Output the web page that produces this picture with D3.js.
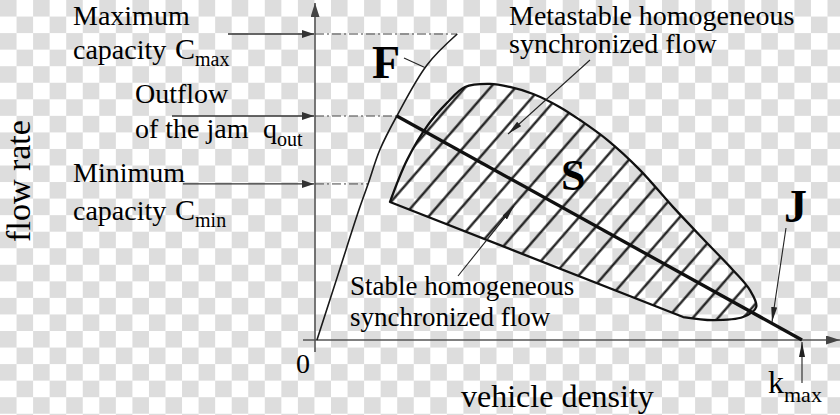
<!DOCTYPE html>
<html lang="en">
<head>
<meta charset="utf-8">
<title>Flow rate vs vehicle density</title>
<style>
body { margin: 0; background: #fff; }
svg text { font-family: "Liberation Serif", "Times New Roman", serif; fill: #000; }
.axis-line { stroke: #555; stroke-width: 1.6; fill: none; }
.level { stroke: #444; stroke-width: 1; stroke-dasharray: 9,3,2,3; fill: none; }
.level-arrow { stroke: #333; stroke-width: 1.3; fill: none; }
.leader { stroke: #222; stroke-width: 1.1; fill: none; }
</style>
</head>
<body>
<div id="chart"></div>
<script src="https://d3js.org/d3.v7.min.js"></script>
<script>

// flow levels on the vertical axis (Cmax = 100)
var levelNames = ["Cmax", "qout", "Cmin"];
var levelFlow = [100, 73.2, 51.0];

// free flow branch F
var fDensity = [0.4, 4.7, 8.8, 10.9, 13.3, 16.8, 23.0, 29.2];
var fFlow = [0, 21.2, 41.5, 51.0, 62.1, 73.2, 89.9, 100];

// line J, from the outflow point down to kmax
var jDensity = [16.8, 100];
var jFlow = [73.2, 0];

// synchronized flow region S (upper curve, then closed straight back)
var sDensity = [15.4, 18.9, 23.2, 27.1, 30.8, 35.9, 40.0, 44.8, 50.3, 54.4, 60.0, 66.7, 73.5, 80.5, 85.8, 89.3, 90.6, 87.9, 81.7, 75.6];
var sFlow = [45.1, 58.8, 70.3, 77.5, 82.7, 83.7, 82.7, 80.4, 76.1, 71.9, 65.4, 55.6, 43.5, 31.7, 22.9, 16.3, 10.8, 7.5, 6.5, 7.5];

var W = 840, H = 415;
var x = d3.scaleLinear().domain([0, 100]).range([315, 802]);
var y = d3.scaleLinear().domain([0, 100]).range([340, 34]);

var svg = d3.select('#chart').append('svg')
  .attr('width', W)
  .attr('height', H);

var defs = svg.append('defs');

// transparent-image checkerboard
var cell = 16.55;
var chk = defs.append('pattern')
  .attr('id', 'checker')
  .attr('patternUnits', 'userSpaceOnUse')
  .attr('width', cell * 2)
  .attr('height', cell * 2);
chk.append('rect').attr('width', cell * 2).attr('height', cell * 2).attr('fill', '#ffffff');
chk.append('rect').attr('width', cell).attr('height', cell).attr('fill', '#dddddd');
chk.append('rect').attr('x', cell).attr('y', cell).attr('width', cell).attr('height', cell).attr('fill', '#dddddd');
svg.append('rect').attr('width', W).attr('height', H).attr('fill', 'url(#checker)');

// hatch
var hs = 19;
var hatch = defs.append('pattern')
  .attr('id', 'hatch')
  .attr('patternUnits', 'userSpaceOnUse')
  .attr('width', hs)
  .attr('height', hs)
  .attr('patternTransform', 'rotate(41)');
hatch.append('line')
  .attr('x1', hs / 2).attr('y1', 0).attr('x2', hs / 2).attr('y2', hs)
  .attr('stroke', '#111').attr('stroke-width', 2.2);

function marker(id, len, wid, col) {
  defs.append('marker')
    .attr('id', id)
    .attr('markerUnits', 'userSpaceOnUse')
    .attr('markerWidth', len)
    .attr('markerHeight', wid)
    .attr('refX', len)
    .attr('refY', wid / 2)
    .attr('orient', 'auto')
    .append('path')
    .attr('d', 'M0,0 L' + len + ',' + (wid / 2) + ' L0,' + wid + ' Z')
    .attr('fill', col);
}
marker('axisHead', 14, 9, '#444');
marker('lvlHead', 12, 8, '#333');
marker('thinHead', 15, 6, '#222');

// axes
svg.append('line').attr('class', 'axis-line')
  .attr('x1', x(0)).attr('y1', y(0) + 12)
  .attr('x2', x(0)).attr('y2', 3)
  .attr('marker-end', 'url(#axisHead)');
svg.append('line').attr('class', 'axis-line')
  .attr('x1', x(0) - 12).attr('y1', y(0))
  .attr('x2', W).attr('y2', y(0))
  .attr('marker-end', 'url(#axisHead)');

// dash-dot level lines up to F
var line = d3.line().x(function(d) { return x(d[0]); }).y(function(d) { return y(d[1]); });
var fPts = fDensity.map(function(d, i) { return [d, fFlow[i]]; });
var fInterp = function(q) {
  for (var i = 1; i < fPts.length; i++) {
    if (fPts[i][1] >= q) {
      var a = fPts[i - 1], b = fPts[i];
      return a[0] + (b[0] - a[0]) * (q - a[1]) / (b[1] - a[1]);
    }
  }
  return fPts[fPts.length - 1][0];
};
var arrowStart = [228, 172, 183];
levelFlow.forEach(function(q, i) {
  svg.append('line').attr('class', 'level')
    .attr('x1', x(0)).attr('y1', y(q))
    .attr('x2', x(fInterp(q))).attr('y2', y(q));
  svg.append('line').attr('class', 'level-arrow')
    .attr('x1', arrowStart[i]).attr('y1', y(q))
    .attr('x2', x(0) - 1).attr('y2', y(q))
    .attr('marker-end', 'url(#lvlHead)');
});

// region S
var sPts = sDensity.map(function(d, i) { return [d, sFlow[i]]; });
var sPath = d3.line()
  .x(function(d) { return x(d[0]); })
  .y(function(d) { return y(d[1]); })
  .curve(d3.curveCatmullRom.alpha(0.5))(sPts) + 'Z';
svg.append('path')
  .attr('d', sPath)
  .attr('fill', 'url(#hatch)')
  .attr('stroke', '#111')
  .attr('stroke-width', 2.3)
  .attr('stroke-linejoin', 'round');

// F branch
svg.append('path')
  .attr('d', d3.line().x(function(d) { return x(d[0]); }).y(function(d) { return y(d[1]); })
    .curve(d3.curveCatmullRom.alpha(0.5))(fPts))
  .attr('fill', 'none')
  .attr('stroke', '#1a1a1a')
  .attr('stroke-width', 1.6);

// J line
svg.append('path')
  .attr('d', line(jDensity.map(function(d, i) { return [d, jFlow[i]]; })))
  .attr('fill', 'none')
  .attr('stroke', '#111')
  .attr('stroke-width', 3.3);

// leaders
svg.append('line').attr('class', 'leader')
  .attr('x1', 404).attr('y1', 58).attr('x2', x(fInterp(89.0))).attr('y2', y(89.0));
svg.append('line').attr('class', 'leader')
  .attr('x1', 590).attr('y1', 60).attr('x2', 508).attr('y2', 134)
  .attr('marker-end', 'url(#thinHead)');
svg.append('line').attr('class', 'leader')
  .attr('x1', 458).attr('y1', 276).attr('x2', 514).attr('y2', 206)
  .attr('marker-end', 'url(#thinHead)');
svg.append('line').attr('class', 'leader')
  .attr('x1', 786).attr('y1', 228).attr('x2', 772).attr('y2', 322)
  .attr('marker-end', 'url(#thinHead)');
svg.append('line').attr('class', 'leader')
  .attr('x1', x(100)).attr('y1', 383).attr('x2', x(100)).attr('y2', y(0) + 2)
  .attr('marker-end', 'url(#thinHead)');

// labels
function label(tx, ty, size, parts, weight) {
  var t = svg.append('text').attr('x', tx).attr('y', ty)
    .style('font-size', size + 'px');
  if (weight) t.style('font-weight', weight);
  parts.forEach(function(p) {
    var s = t.append('tspan').text(p.t);
    if (p.x != null) s.attr('x', p.x);
    if (p.size) s.style('font-size', p.size + 'px');
    if (p.dy) s.attr('dy', p.dy);
  });
  return t;
}
label(73, 25, 28, [{t: 'Maximum'}]);
label(73, 59, 28, [{t: 'capacity '}, {t: 'C', x: 175, size: 30}, {t: 'max', size: 20, dy: 7}]);
label(135, 103, 28, [{t: 'Outflow'}]);
label(135, 138, 28, [{t: 'of the jam'}, {t: 'q', x: 263}, {t: 'out', size: 20, dy: 8}]);
label(73, 182, 28, [{t: 'Minimum'}]);
label(73, 220, 28, [{t: 'capacity '}, {t: 'C', x: 175, size: 30}, {t: 'min', size: 20, dy: 7}]);

label(509, 25, 28, [{t: 'Metastable homogeneous'}]);
label(509, 53, 28, [{t: 'synchronized flow'}]);
label(350, 295, 27, [{t: 'Stable homogeneous'}]);
label(350, 326, 27, [{t: 'synchronized flow'}]);

label(372, 78, 46, [{t: 'F'}], 'bold');
label(561, 190, 44, [{t: 'S'}], 'bold');
label(784, 222, 46, [{t: 'J'}], 'bold');

label(296, 373, 28, [{t: '0'}]);
label(768, 393, 32, [{t: 'k'}, {t: 'max', size: 22, dy: 9}]);
label(461, 407, 32, [{t: 'vehicle density'}]);

svg.append('text')
  .attr('transform', 'translate(30,181) rotate(-90)')
  .attr('text-anchor', 'middle')
  .style('font-size', '34px')
  .text('flow rate');
</script>
</body>
</html>
